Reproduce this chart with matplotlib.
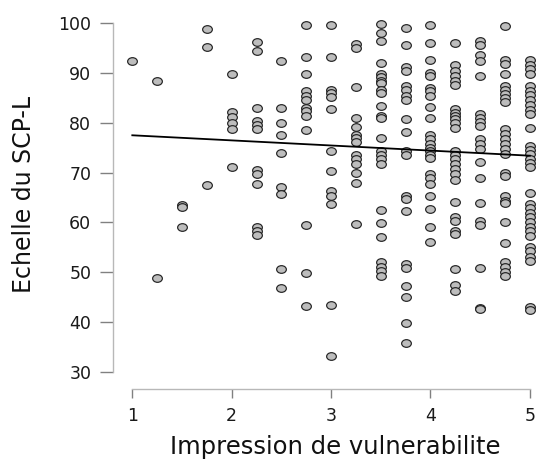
import numpy as np
import matplotlib
matplotlib.use('Agg')
import matplotlib.pyplot as plt
from matplotlib.path import Path
from matplotlib.transforms import Affine2D

levels = [1.0, 1.25, 1.5, 1.75, 2.0, 2.25, 2.5, 2.75, 3.0, 3.25, 3.5, 3.75, 4.0, 4.25, 4.5, 4.75, 5.0]

y_100 = [92.5]
y_125 = [88.5, 48.8]
y_150 = [63.4, 63.0, 59.0]
y_175 = [98.9, 95.3, 67.5]
y_200 = [89.8, 82.2, 81.2, 79.9, 78.8, 71.1]
y_225 = [96.3, 94.4, 82.9, 80.4, 79.5, 78.7, 70.5, 69.7, 67.8, 59.0, 58.2, 57.5]
y_250 = [92.5, 83.0, 79.9, 77.6, 74.0, 67.2, 65.8, 50.6, 46.8]
y_275 = [99.7, 93.2, 89.8, 86.4, 85.4, 84.5, 82.9, 82.4, 81.4, 78.6, 59.5, 49.8, 43.1]
y_300 = [99.7, 93.2, 86.7, 86.0, 85.2, 82.7, 74.3, 70.3, 66.3, 65.3, 63.7, 43.3, 33.1]
y_325 = [95.9, 95.1, 87.2, 80.9, 79.2, 77.6, 76.9, 76.2, 73.5, 72.7, 71.7, 70.0, 68.0, 59.7]
y_350 = [99.9, 98.1, 96.4, 92.0, 89.8, 89.2, 88.5, 88.0, 86.7, 86.0, 83.4, 81.4, 81.0,
         77.0, 74.3, 73.5, 72.7, 71.8, 62.5, 59.8, 57.1, 52.0, 51.1, 50.3, 49.3]
y_375 = [99.1, 95.7, 91.2, 90.5, 87.4, 86.5, 85.4, 84.5, 80.7, 78.2, 74.3, 73.5, 65.3,
         64.7, 62.2, 51.6, 50.8, 47.3, 45.1, 39.7, 35.7]
y_400 = [99.7, 96.1, 92.7, 90.0, 89.4, 87.0, 86.4, 85.4, 83.2, 80.9, 77.6, 76.7, 75.8,
         75.0, 74.3, 73.5, 72.9, 69.7, 69.0, 67.7, 65.3, 62.7, 59.1, 56.0]
y_425 = [96.1, 91.7, 90.5, 89.5, 88.5, 87.6, 82.7, 82.0, 81.4, 80.7, 80.0, 79.0, 74.3,
         73.5, 72.7, 71.7, 70.7, 69.7, 68.5, 64.0, 61.0, 60.2, 58.3, 57.6, 50.6, 47.5, 46.3]
y_450 = [96.4, 95.6, 93.7, 92.4, 89.4, 81.7, 81.0, 80.2, 79.4, 76.7, 75.7, 74.7, 72.1,
         69.0, 63.8, 60.3, 59.5, 50.8, 42.8, 42.5]
y_475 = [99.4, 92.7, 91.9, 89.8, 87.4, 86.6, 85.7, 84.9, 84.2, 78.7, 77.7, 76.7, 75.7,
         74.7, 73.8, 70.0, 69.3, 65.3, 64.3, 63.8, 60.1, 55.8, 52.0, 51.0, 50.0, 49.2]
y_500 = [92.7, 91.7, 90.9, 89.9, 87.4, 86.4, 85.5, 84.5, 83.5, 82.6, 81.7, 79.0, 75.4,
         74.5, 73.7, 72.8, 71.9, 71.1, 66.0, 63.7, 62.9, 61.9, 61.0, 60.0, 59.1, 58.2,
         57.3, 55.0, 54.2, 53.0, 52.2, 42.9, 42.3]

cols = [y_100, y_125, y_150, y_175, y_200, y_225, y_250, y_275, y_300,
        y_325, y_350, y_375, y_400, y_425, y_450, y_475, y_500]

# fitted line
fit_x = [1, 5]
fit_y = [77.5, 73.4]

xticks = [1, 2, 3, 4, 5]
yticks = [30, 40, 50, 60, 70, 80, 90, 100]

xs = np.concatenate([np.full(len(c), lv) for lv, c in zip(levels, cols)])
ys = np.concatenate([np.array(c) for c in cols])

# slightly wide ellipse marker (the original is stretched horizontally)
ell = Path.unit_circle().transformed(Affine2D().scale(1.27, 1.0))

plt.rcParams['font.family'] = 'DejaVu Sans'
W, H = 536, 462
fig = plt.figure(figsize=(W/100, H/100), dpi=100)

# axes in pixel terms
left, bot, right, top = 113.3, 389.3, 546.0, 13.4
ax = fig.add_axes([left/W, 1-bot/H, (right-left)/W, (bot-top)/H])
ax.set_xlim(1 - (132.3-113.3)/99.4, 1 + (546.0-132.3)/99.4)
ax.set_ylim(30 - (389.3-371.7)/4.97, 100 + (23.3-13.4)/4.97)

ax.plot(xs, ys, ls='none', marker=ell, ms=7.0, mfc='#bdbdbd', mec='#222222', mew=0.85)
ax.plot(fit_x, fit_y, color='black', lw=1.3)

for s in ['top', 'right']:
    ax.spines[s].set_visible(False)
ax.spines['left'].set_bounds(30, 100)
ax.spines['bottom'].set_bounds(1, 5)
for s in ['left', 'bottom']:
    ax.spines[s].set_color('#b8b8b8')
    ax.spines[s].set_linewidth(1.0)

ax.set_xticks(xticks)
ax.set_yticks(yticks)
ax.tick_params(axis='x', length=6.5, width=1.0, color='#808080', pad=6.5,
               labelsize=12.5, labelcolor='#1a1a1a')
ax.tick_params(axis='y', length=9.4, width=1.0, color='#808080', pad=6.5,
               labelsize=12.5, labelcolor='#1a1a1a')
ax.patch.set_visible(False)

fig.text(335/W, 1-447/H, 'Impression de vulnerabilite', ha='center', va='center',
         fontsize=17.5, color='#111111')
fig.text(24/W, 1-194/H, 'Echelle du SCP-L', ha='center', va='center',
         rotation=90, fontsize=17, color='#111111')

fig.savefig('out.png', dpi=100)
